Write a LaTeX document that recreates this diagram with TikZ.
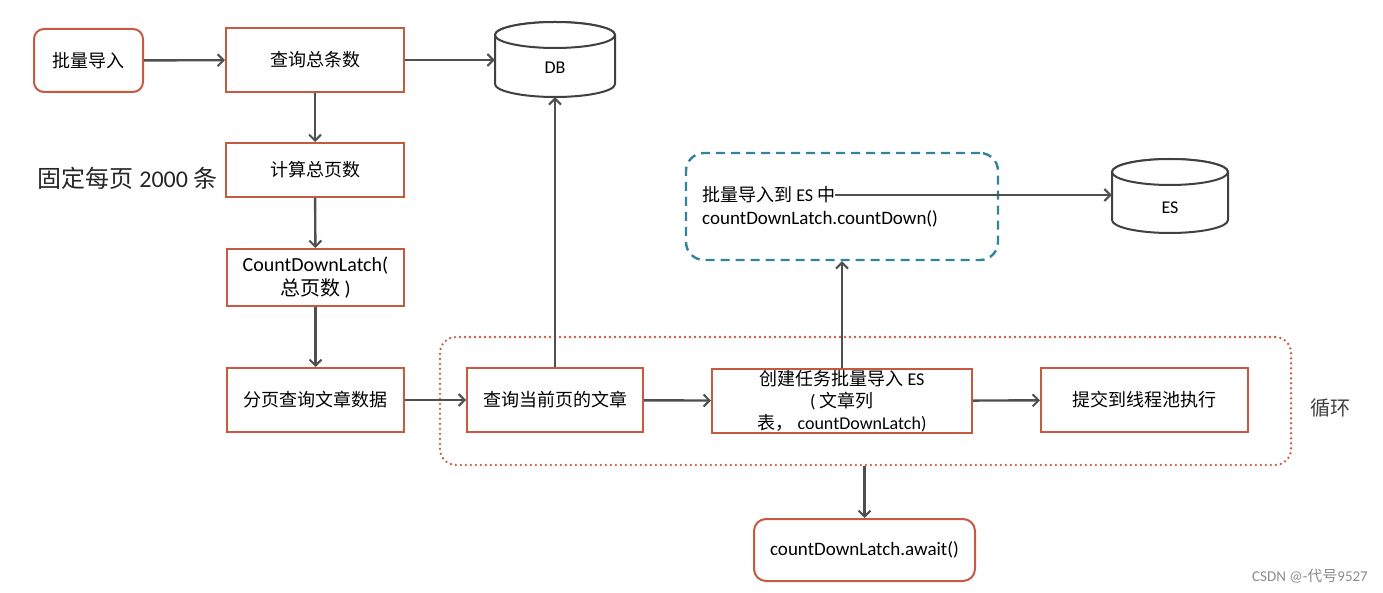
\documentclass[tikz,border=0pt]{standalone}
\usepackage{fontspec}
\setmainfont{Carlito}
\newfontfamily\cjk{Noto Sans CJK SC}
\newcommand\zh[1]{{\cjk #1}}
\usetikzlibrary{arrows.meta}
\definecolor{boxred}{HTML}{C55A40}
\definecolor{teal}{HTML}{31849B}
\definecolor{arr}{HTML}{4F4F4F}
\tikzset{
  proc/.style={draw=boxred,line width=2pt,fill=white,inner sep=0pt,align=center,font=\fontsize{18}{23}\selectfont},
  rproc/.style={proc,rounded corners=10pt},
  dbbox/.style={inner sep=0pt,font=\fontsize{18}{20}\selectfont},
  cyl/.style={draw=black!75,line width=2pt,fill=white},
  flow/.style={draw=arr,line width=2.4pt,-{Straight Barb[length=6pt,width=12pt,line width=2pt]}},
}
\begin{document}
\begin{tikzpicture}[x=1pt,y=-1pt]
\useasboundingbox (0,0) rectangle (1383,593);
% loop and dashed frame
\node[draw=boxred,dash pattern=on 0pt off 5pt,line cap=round,line width=2.6pt,rounded corners=16pt,minimum width=851pt,minimum height=128pt,inner sep=0pt] (loop) at (865.5,401) {};
\node[draw=teal,dash pattern=on 9pt off 6pt,line width=2.4pt,rounded corners=18pt,minimum width=312pt,minimum height=107pt,inner sep=0pt] (dframe) at (842,206.5) {};
% cylinders drawn directly
\draw[cyl] (495,35) -- (495,84) arc[start angle=180,end angle=360,x radius=60pt,y radius=13pt] -- (615,35) arc[start angle=0,end angle=180,x radius=60pt,y radius=13pt] -- cycle;
\draw[cyl] (555,35) ellipse[x radius=60pt,y radius=13pt];
\node[minimum width=120pt,minimum height=75pt] (dbn) at (555,59.5) {};
\node[dbbox] (dbt) at (555,68) {DB};
\draw[cyl] (1112,172) -- (1112,220) arc[start angle=180,end angle=360,x radius=58pt,y radius=13pt] -- (1228,172) arc[start angle=0,end angle=180,x radius=58pt,y radius=13pt] -- cycle;
\draw[cyl] (1170,172) ellipse[x radius=58pt,y radius=13pt];
\node[minimum width=116pt,minimum height=74pt] (es) at (1170,196) {};
\node[dbbox] (est) at (1170,208) {ES};
% nodes
\node[rproc,minimum width=109pt,minimum height=63pt] (imp) at (88.5,60.5) {\zh{批量导入}};
\node[proc,minimum width=178pt,minimum height=64pt] (cnt) at (315,60) {\zh{查询总条数}};
\node[proc,minimum width=178pt,minimum height=54pt] (pages) at (315,170) {\zh{计算总页数}};
\node[font=\fontsize{24}{28}\selectfont,anchor=east,text=black!85] (fix) at (221,178) {\zh{固定每页} 2000 \zh{条}};
\node[proc,minimum width=177pt,minimum height=57pt,font=\fontsize{20}{24}\selectfont] (latch) at (315.5,277.5) {CountDownLatch(\\\zh{总页数} )};
\node[proc,minimum width=177pt,minimum height=64pt] (page) at (315.5,400) {\zh{分页查询文章数据}};
\node[proc,minimum width=176pt,minimum height=64pt] (cur) at (555,400) {\zh{查询当前页的文章}};
\node[proc,minimum width=260pt,minimum height=64pt,font=\fontsize{18}{22}\selectfont] (task) at (842,401) {\zh{创建任务批量导入} ES\\( \zh{文章列}\\\zh{表，} countDownLatch)};
\node[proc,minimum width=207pt,minimum height=64pt] (sub) at (1144.5,400) {\zh{提交到线程池执行}};
\node[font=\fontsize{20}{24}\selectfont,text=black!75] (xh) at (1330,408) {\zh{循环}};
\node[rproc,minimum width=221pt,minimum height=62pt,rounded corners=12pt,font=\fontsize{19}{22}\selectfont] (await) at (864.5,550) {countDownLatch.await()};
\node[anchor=west,inner sep=0pt,font=\fontsize{18}{22}\selectfont] (l1) at (702,195) {\zh{批量导入到} ES \zh{中}};
\node[anchor=west,inner sep=0pt,font=\fontsize{19}{22}\selectfont] (l2) at (702,219) {countDownLatch.countDown()};
\node[anchor=east,inner sep=0pt,text=black!45,font=\fontsize{15}{17}\selectfont] (wm) at (1368,576) {CSDN @-\zh{代号}9527};
% connectors
\draw[flow] (imp) -- (cnt);
\draw[flow] (cnt) -- (cnt -| dbn.west);
\draw[flow] (cnt) -- (pages);
\draw[flow] (pages) -- (latch);
\draw[flow] (latch) -- (page);
\draw[flow] (page) -- (cur);
\draw[flow] (cur) -- (dbn.south);
\draw[flow] (cur) -- (task);
\draw[flow] (task) -- (sub);
\draw[flow] (task.north) -- (dframe.south);
\draw[flow] (l1.east) -- (l1.east -| es.west);
\draw[flow] (loop.south -| await.north) -- (await.north);
\end{tikzpicture}
\end{document}
